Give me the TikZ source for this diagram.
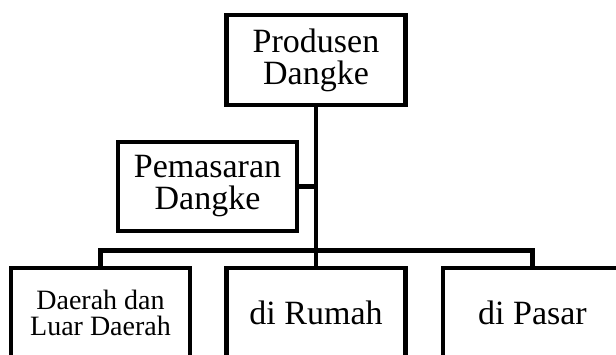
\documentclass[tikz,border=0pt]{standalone}
\usepackage{fontspec}
\setmainfont{Liberation Serif}
\usetikzlibrary{calc}

\tikzset{
	kotak/.style={draw,line width=4.6pt,rectangle,minimum width=179pt,minimum height=90pt,
		inner sep=0pt,align=center,font=\fontsize{34}{32}\selectfont},
	garis/.style={line width=4.6pt}
}

\begin{document}
\begin{tikzpicture}[x=1pt,y=-1pt]

	\useasboundingbox (0,0) rectangle (616,354);
	\clip (0,0) rectangle (616,354);

	\node[kotak] (produsen) at (316,60) {Produsen\\Dangke};
	\node[kotak,minimum height=89pt] (pemasaran) at (207.5,186.5) {Pemasaran\\Dangke};

	\node[kotak,font=\fontsize{28}{26}\selectfont] (daerah) at (100.5,313) {Daerah dan\\Luar Daerah};
	\node[kotak] (rumah) at (316,313) {di Rumah};
	\node[kotak] (pasar) at (532.5,313) {di Pasar};

	\coordinate (bus) at (316,250.5);

	\draw[garis] (produsen) -- (rumah);
	\draw[garis] (pemasaran.east) -- (pemasaran.east -| produsen);
	\draw[garis] (daerah.north) |- (bus) -| (pasar.north);

\end{tikzpicture}
\end{document}
